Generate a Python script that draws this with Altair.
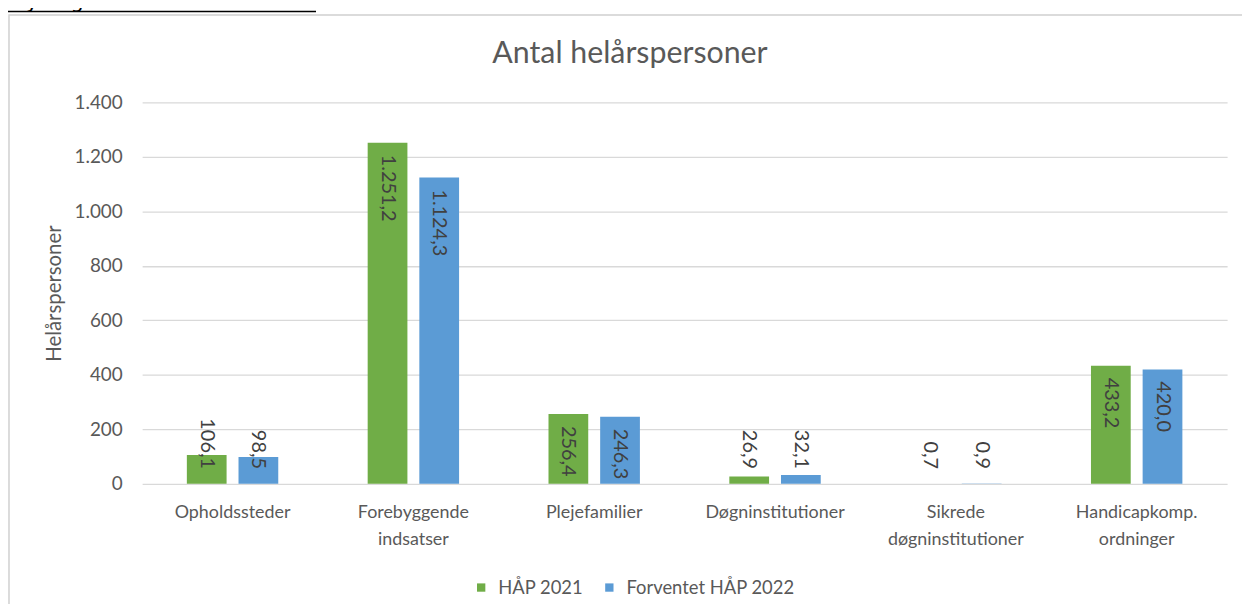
import altair as alt
import pandas as pd

categories = ["Opholdssteder", "Forebyggende|indsatser", "Plejefamilier",
              "Døgninstitutioner", "Sikrede|døgninstitutioner", "Handicapkomp.|ordninger"]
series = ["HÅP 2021", "Forventet HÅP 2022"]
hap_2021 = [106.1, 1251.2, 256.4, 26.9, 0.7, 433.2]
hap_2022 = [98.5, 1124.3, 246.3, 32.1, 0.9, 420.0]
colors = ["#70AD47", "#5B9BD5"]
y_ticks = [0, 200, 400, 600, 800, 1000, 1200, 1400]

rows = []
for i, c in enumerate(categories):
    rows.append({"kategori": c, "serie": series[0], "v": hap_2021[i]})
    rows.append({"kategori": c, "serie": series[1], "v": hap_2022[i]})
df = pd.DataFrame(rows)

FONT = "Lato"
GREY = "#595959"

x = alt.X("kategori:N", sort=categories,
          scale=alt.Scale(paddingInner=0.4945, paddingOuter=0.2473),
          axis=alt.Axis(title=None, labelAngle=0, labelExpr="split(datum.label, '|')",
                        labelFont=FONT, labelFontSize=18, labelColor=GREY,
                        labelPadding=20, labelLineHeight=27, labelBaseline="top",
                        domain=False, ticks=False, tickSize=0, grid=False))
xoff = alt.XOffset("serie:N", sort=series,
                   scale=alt.Scale(paddingInner=0.2308, paddingOuter=0))
y = alt.Y("v:Q", scale=alt.Scale(domain=[0, 1400], nice=False),
          axis=alt.Axis(values=y_ticks, format=",d", title="Helårspersoner",
                        labelFont=FONT, labelFontSize=19, labelColor=GREY,
                        labelPadding=20, ticks=False, tickSize=0, domain=False,
                        grid=True, gridColor="#D9D9D9", gridWidth=1.3,
                        titleFont=FONT, titleFontSize=20.5, titleColor=GREY,
                        titleFontWeight="normal", titleX=-88, titleY=192,
                        titleAngle=-90, titleAlign="center", titleBaseline="middle"))
color = alt.Color("serie:N", sort=series,
                  scale=alt.Scale(domain=series, range=colors),
                  legend=alt.Legend(title=None, orient="none", legendX=332, legendY=479,
                                    direction="horizontal", symbolType="square",
                                    symbolSize=70, symbolStrokeWidth=0,
                                    labelFont=FONT, labelFontSize=18.5, labelColor=GREY,
                                    labelLimit=400, columnPadding=17, labelOffset=8,
                                    padding=0))

base = alt.Chart(df)

bars = base.mark_bar().encode(x=x, xOffset=xoff, y=y, color=color)

# text is rotated 90 degrees; dx runs along the rotated text (downwards on screen)
big_labels = base.transform_filter("datum.v >= 200").mark_text(
    angle=90, align="left", baseline="middle", dx=12, font=FONT, fontSize=20, color="#404040"
).encode(x=x, xOffset=xoff, y=y, text=alt.Text("v:Q", format=",.1f"))

small_labels = base.transform_filter("datum.v < 200").mark_text(
    angle=90, align="right", baseline="middle", dx=-15, font=FONT, fontSize=20, color="#404040"
).encode(x=x, xOffset=xoff, y=alt.datum(0), text=alt.Text("v:Q", format=",.1f"))

deco = alt.Chart(pd.DataFrame({"t": ["Antal helårspersoner"]}))
title = deco.mark_text(font=FONT, fontSize=30.5, color=GREY, baseline="middle", align="center").encode(
    x=alt.value(491), y=alt.value(-49), text="t:N")

border = deco.mark_rect(fill="white", fillOpacity=0, stroke="#D0D0D0", strokeWidth=1.5).encode(
    x=alt.value(-134), x2=alt.value(1130), y=alt.value(-88), y2=alt.value(540))

note = alt.Chart(pd.DataFrame({"t": ["Myndighedsområdet I alt."]})).mark_text(
    font="DejaVu Sans", fontSize=21, color="black", align="left", baseline="alphabetic"
).encode(x=alt.value(-135), y=alt.value(-95), text="t:N")
underline = deco.mark_rule(color="black", strokeWidth=1.5).encode(
    x=alt.value(-135), x2=alt.value(175), y=alt.value(-91.5))

chart = alt.layer(border, bars, big_labels, small_labels, title, note, underline).properties(
    width=1092, height=384,
    autosize=alt.AutoSizeParams(type="none"),
    padding={"left": 135, "top": 93, "right": 15, "bottom": 119},
).configure(
    locale={"number": {"decimal": ",", "thousands": ".", "grouping": [3], "currency": ["", " kr."]}}
).configure_view(stroke=None)

chart.save("out.html", embed_options={"renderer": "svg", "actions": False})
